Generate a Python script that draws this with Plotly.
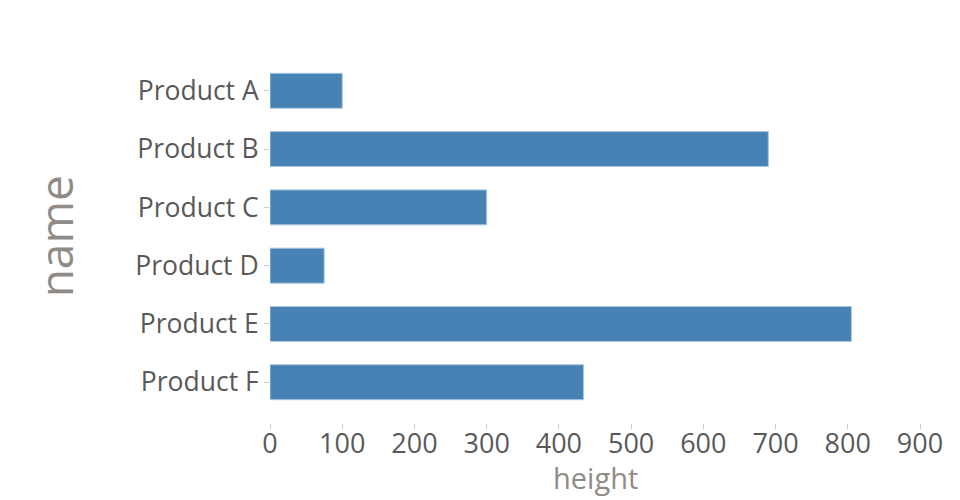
import plotly.graph_objects as go

names = ["Product A", "Product B", "Product C", "Product D", "Product E", "Product F"]
heights = [100, 690, 300, 75, 805, 434]

fig = go.Figure(go.Bar(
    x=heights, y=names, orientation="h",
    marker=dict(color="#4682b4", line=dict(color="#a9c6e0", width=1)),
    width=0.6,
))

fig.update_layout(
    width=960, height=500,
    margin=dict(l=262, r=48, t=42, b=85),
    plot_bgcolor="white", paper_bgcolor="white",
    font=dict(family="Open Sans", size=26, color="#595959"),
    showlegend=False,
    annotations=[
        dict(text="height", xref="paper", yref="paper", x=0.5, y=-0.145,
             xanchor="center", yanchor="middle", showarrow=False,
             font=dict(size=29, color="#8f8b86")),
        dict(text="name", xref="paper", yref="paper", x=-0.331, y=0.5,
             xanchor="center", yanchor="middle", showarrow=False, textangle=-90,
             font=dict(size=46, color="#8f8b86")),
    ],
)
fig.update_xaxes(
    range=[0, 900], dtick=100, showgrid=False, zeroline=False,
    ticks="outside", ticklen=5, tickcolor="#cccccc",
    tickfont=dict(size=27, color="#595959"), ticklabelstandoff=-8,
    showline=False, automargin=False,
)
fig.update_yaxes(
    categoryorder="array", categoryarray=names,
    range=[5.7, -0.7], showgrid=False, zeroline=False,
    ticks="outside", ticklen=5, tickcolor="#cccccc",
    tickfont=dict(size=26.5, color="#595959"),
    showline=False, automargin=False,
)

fig.write_html("out.html")
